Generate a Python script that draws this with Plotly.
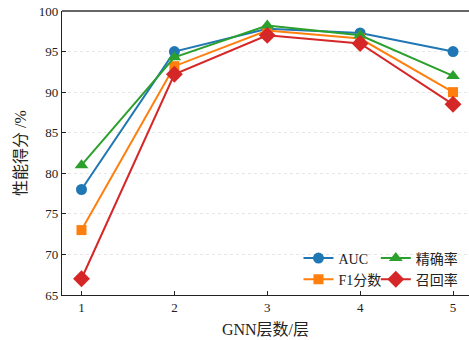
import plotly.graph_objects as go

layers = [1, 2, 3, 4, 5]
auc = [78, 95, 97.8, 97.3, 95]
f1 = [73, 93.2, 97.6, 96.6, 90]
precision = [81, 94.3, 98.2, 97.0, 92]
recall = [67, 92.2, 97.0, 96.0, 88.5]

x_ticks = [1, 2, 3, 4, 5]
y_ticks = [65, 70, 75, 80, 85, 90, 95, 100]

FONT = "Liberation Serif, Times New Roman, Noto Sans CJK SC, serif"

series = [
    ("AUC", auc, "#1f77b4", "circle", 11, "legend", 1),
    ("F1分数", f1, "#ff7f0e", "square", 10, "legend", 2),
    ("精确率", precision, "#2ca02c", "triangle-up", 12, "legend2", 1),
    ("召回率", recall, "#d62728", "diamond", 13, "legend2", 2),
]

fig = go.Figure()
for name, vals, color, sym, size, leg, rank in series:
    fig.add_trace(go.Scatter(
        x=layers, y=vals, name=name, mode="lines+markers",
        line=dict(color=color, width=2),
        marker=dict(symbol=sym, size=size, color=color),
        legend=leg, legendrank=rank,
    ))

fig.update_layout(
    width=469, height=340,
    margin=dict(l=62, r=0, t=11, b=45),
    paper_bgcolor="white", plot_bgcolor="white",
    font=dict(family=FONT, size=13, color="#222"),
    legend=dict(x=0.581, y=0.185, xanchor="left", yanchor="top",
                bgcolor="rgba(0,0,0,0)", font=dict(size=14), tracegroupgap=0),
    legend2=dict(x=0.771, y=0.185, xanchor="left", yanchor="top",
                 bgcolor="rgba(0,0,0,0)", font=dict(size=14), tracegroupgap=0),
    xaxis=dict(
        range=[0.79, 5.172], tickvals=x_ticks, ticks="inside", ticklen=4,
        tickcolor="#222", showline=True, linecolor="#222", linewidth=1.3,
        showgrid=False, zeroline=False,
        title=dict(text="GNN层数/层", font=dict(size=16), standoff=10),
        tickfont=dict(size=13),
    ),
    yaxis=dict(
        range=[65, 100], tickvals=y_ticks, ticks="inside", ticklen=4,
        tickcolor="#222", showline=True, linecolor="#222", linewidth=1.3,
        showgrid=True, gridcolor="#e6e6e6", griddash="dot", gridwidth=1,
        zeroline=False,
        title=dict(text="性能得分 /%", font=dict(size=16), standoff=8),
        tickfont=dict(size=13),
    ),
    shapes=[dict(type="line", xref="paper", yref="paper", x0=0, x1=1, y0=1, y1=1,
                 line=dict(color="#666", width=2))],
)

fig.write_html("out.html")
